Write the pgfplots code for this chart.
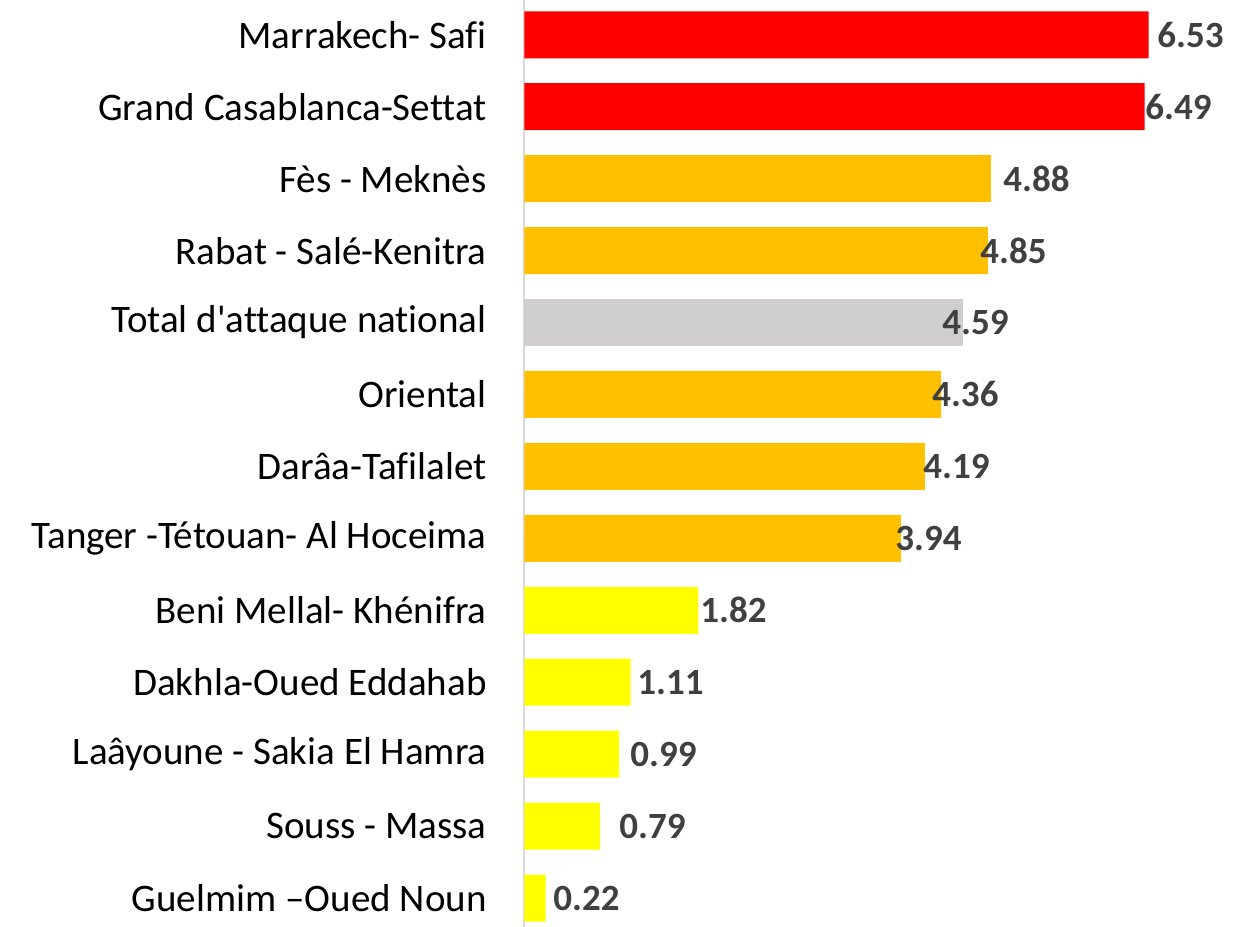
\documentclass[border=0pt]{standalone}
\usepackage{pgfplots}
\pgfplotsset{compat=1.18}
\usepackage{fontspec}
\setmainfont{Carlito}[Ligatures={TeXOff,CommonOff}]
\definecolor{cred}{HTML}{FF0000}
\definecolor{corange}{HTML}{FFC000}
\definecolor{cyellow}{HTML}{FFFF00}
\definecolor{cgray}{HTML}{D0CECE}
\definecolor{axgray}{HTML}{D9D9D9}
\definecolor{lblgray}{HTML}{404040}
\begin{document}
\begin{tikzpicture}
\begin{axis}[
  scale only axis, width=364.75pt, height=463.5pt,
  xmin=0, xmax=7.634, ymin=-0.403, ymax=12.484,
  axis x line=none, axis y line=left,
  y axis line style={-, draw=axgray, line width=1pt},
  ytick={0,...,12},
  yticklabels={Guelmim –Oued Noun, Souss - Massa, Laâyoune - Sakia El Hamra, Dakhla-Oued Eddahab, Beni Mellal- Khénifra, Tanger -Tétouan- Al Hoceima, Darâa-Tafilalet, Oriental, Total d'attaque national, Rabat - Salé-Kenitra, Fès - Meknès, Grand Casablanca-Settat, Marrakech- Safi},
  ytick style={draw=none}, major tick length=0pt,
  yticklabel style={font=\fontsize{19.5}{20}\selectfont, anchor=east, inner sep=0pt, xshift=-18.75pt, text=black},
  clip=false,
]
\addplot[xbar, bar width=23.5pt, bar shift=0pt, fill=cred, draw=none] coordinates {(6.53,12) (6.49,11)};
\addplot[xbar, bar width=23.5pt, bar shift=0pt, fill=corange, draw=none] coordinates {(4.88,10) (4.85,9) (4.36,7) (4.19,6) (3.94,5)};
\addplot[xbar, bar width=23.5pt, bar shift=0pt, fill=cgray, draw=none] coordinates {(4.59,8)};
\addplot[xbar, bar width=23.5pt, bar shift=0pt, fill=cyellow, draw=none] coordinates {(1.82,4) (1.11,3) (0.99,2) (0.79,1) (0.22,0)};
\addplot[draw=none, mark=none, nodes near coords, point meta=explicit symbolic,
  nodes near coords style={anchor=west, inner sep=0pt, font=\fontsize{18.5}{20}\selectfont\bfseries, text=lblgray}]
  table[meta=lab] {
x y lab
6.619 12 6.53
6.493 11 6.49
5.007 10 4.88
4.767 9 4.85
4.369 8 4.59
4.264 7 4.36
4.170 6 4.19
3.877 5 3.94
1.837 4 1.82
1.177 3 1.11
1.104 2 0.99
0.989 1 0.79
0.298 0 0.22
};
\coordinate (bl) at (rel axis cs:0,0);
\coordinate (tr) at (rel axis cs:1,1);
\end{axis}
\pgfresetboundingbox
\path[use as bounding box] ([xshift=-262.25pt]bl) rectangle (tr);
\end{tikzpicture}
\end{document}
